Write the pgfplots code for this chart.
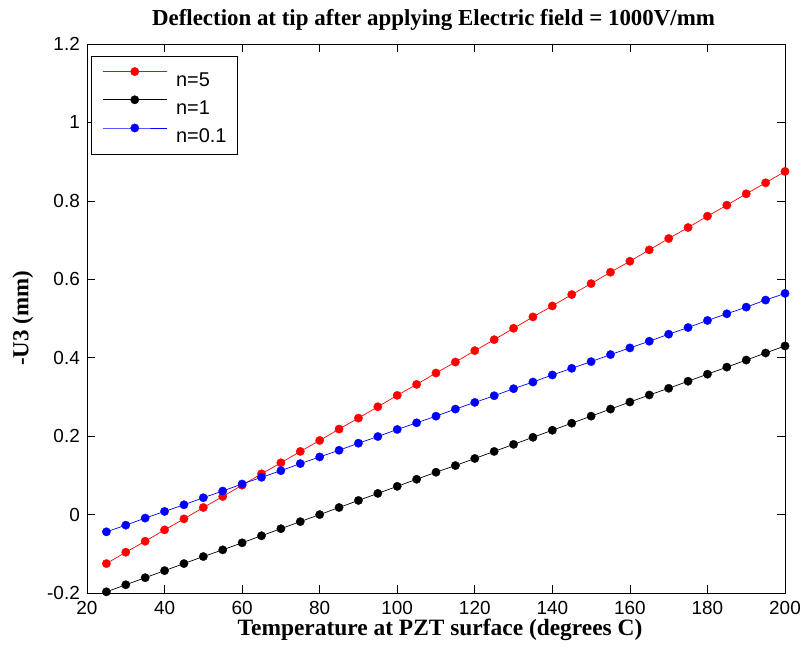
\documentclass[border=0pt]{standalone}
\usepackage{fontspec}
\setmainfont{Liberation Serif}
\setsansfont{Liberation Sans}
\usepackage{pgfplots}
\pgfplotsset{compat=1.18}
\begin{document}
\begin{tikzpicture}
\begin{axis}[
  scale only axis,
  width=698bp, height=549bp,
  xmin=20, xmax=200, ymin=-0.2, ymax=1.2,
  xtick={20,40,...,200},
  ytick={-0.2,0,0.2,0.4,0.6,0.8,1,1.2},
  yticklabels={-0.2,0,0.2,0.4,0.6,0.8,1,1.2},
  tick align=inside,
  major tick length=8bp,
  axis line style={line width=0.9pt},
  tick style={line width=0.7pt, black},
  /pgf/number format/assume math mode=true,
  tick label style={font=\sffamily\fontsize{19}{19}\selectfont},
  xticklabel style={inner sep=0bp, anchor=north, yshift=-8.5bp},
  yticklabel style={inner sep=0bp, anchor=east, xshift=-7bp},
  title={\bfseries\fontsize{23}{23}\selectfont Deflection at tip after applying Electric field = 1000V/mm},
  title style={at={(axis description cs:0.5,1)}, anchor=base, xshift=-2.5bp, yshift=13bp, inner sep=0bp},
  xlabel={\bfseries\fontsize{23.5}{23.5}\selectfont Temperature at PZT surface (degrees C)},
  ylabel={\bfseries\fontsize{23}{23}\selectfont -U3 (mm)},
  xlabel style={at={(axis description cs:0.5,0)}, anchor=base, xshift=4bp, yshift=-42.5bp, inner sep=0bp},
  ylabel style={at={(axis description cs:0,0.5)}, anchor=base, yshift=58.5bp, inner sep=0bp},
  legend style={at={(axis description cs:0,1)}, anchor=north west, xshift=4bp, yshift=-12bp,
    draw=black, line width=0.8pt,
    font=\sffamily\fontsize{20}{20}\selectfont, inner sep=11bp, row sep=9bp, column sep=9bp,
    nodes={inner sep=0bp, text height=15bp, text depth=0bp},
    cells={anchor=west}},
  legend cell align=left,
  legend image code/.code={\draw[mark repeat=2, mark phase=2, #1, line width=0.7pt] plot coordinates {(0bp,7.5bp) (32bp,7.5bp) (64bp,7.5bp)};},
]
\coordinate (sw) at (rel axis cs:0,0);
\coordinate (ne) at (rel axis cs:1,1);
\addplot[red, line width=0.7pt, mark=*, mark size=4.2bp, mark options={solid, fill=red, draw=red, line width=0.3pt}] coordinates {
(25,-0.125)(30,-0.096)(35,-0.068)(40,-0.039)(45,-0.011)(50,0.018)(55,0.046)(60,0.075)
(65,0.104)(70,0.132)(75,0.161)(80,0.189)(85,0.218)(90,0.246)(95,0.275)(100,0.304)
(105,0.332)(110,0.361)(115,0.389)(120,0.418)(125,0.446)(130,0.475)(135,0.504)(140,0.532)
(145,0.561)(150,0.589)(155,0.618)(160,0.646)(165,0.675)(170,0.704)(175,0.732)(180,0.761)
(185,0.789)(190,0.818)(195,0.846)(200,0.875)};
\addlegendentry{n=5}
\addplot[black, line width=0.7pt, mark=*, mark size=4.2bp, mark options={solid, fill=black, draw=black, line width=0.3pt}] coordinates {
(25,-0.197)(30,-0.179)(35,-0.161)(40,-0.143)(45,-0.125)(50,-0.107)(55,-0.090)(60,-0.072)
(65,-0.054)(70,-0.036)(75,-0.018)(80,0.000)(85,0.018)(90,0.036)(95,0.054)(100,0.072)
(105,0.090)(110,0.108)(115,0.125)(120,0.143)(125,0.161)(130,0.179)(135,0.197)(140,0.215)
(145,0.233)(150,0.251)(155,0.269)(160,0.287)(165,0.305)(170,0.322)(175,0.340)(180,0.358)
(185,0.376)(190,0.394)(195,0.412)(200,0.430)};
\addlegendentry{n=1}
\addplot[blue, line width=0.7pt, mark=*, mark size=4.2bp, mark options={solid, fill=blue, draw=blue, line width=0.3pt}] coordinates {
(25,-0.044)(30,-0.027)(35,-0.009)(40,0.008)(45,0.025)(50,0.043)(55,0.060)(60,0.078)
(65,0.095)(70,0.112)(75,0.130)(80,0.147)(85,0.164)(90,0.182)(95,0.199)(100,0.217)
(105,0.234)(110,0.251)(115,0.269)(120,0.286)(125,0.303)(130,0.321)(135,0.338)(140,0.356)
(145,0.373)(150,0.390)(155,0.408)(160,0.425)(165,0.442)(170,0.460)(175,0.477)(180,0.495)
(185,0.512)(190,0.529)(195,0.547)(200,0.564)};
\addlegendentry{n=0.1}
\end{axis}
\pgfresetboundingbox
\path[use as bounding box] ([shift={(-87bp,-61bp)}]sw) rectangle ([shift={(21bp,44bp)}]ne);
\end{tikzpicture}
\end{document}
